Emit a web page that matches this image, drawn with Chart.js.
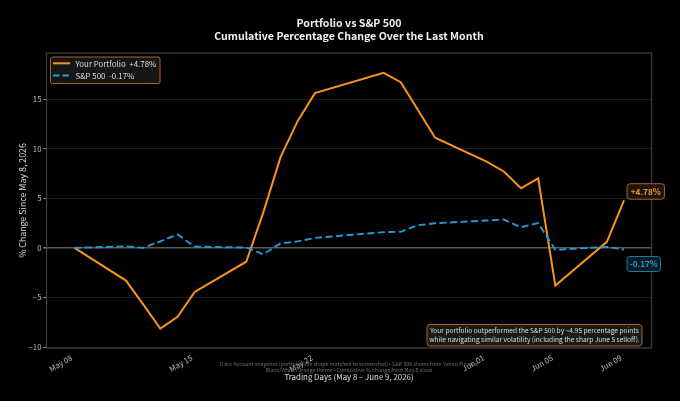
<!DOCTYPE html>
<html><head><meta charset="utf-8">
<style>html,body{margin:0;padding:0;background:#000}#w{width:680px;height:401px;position:relative}</style>
<script src="https://cdn.jsdelivr.net/npm/chart.js@4/dist/chart.umd.min.js"></script>
</head><body><div id="w"><canvas id="c" width="680" height="401"></canvas></div>
<script>
const tradingDates = ["2026-05-08","2026-05-11","2026-05-12","2026-05-13","2026-05-14","2026-05-15","2026-05-18","2026-05-19","2026-05-20","2026-05-21","2026-05-22","2026-05-26","2026-05-27","2026-05-28","2026-05-29","2026-06-01","2026-06-02","2026-06-03","2026-06-04","2026-06-05","2026-06-08","2026-06-09"];
const portfolioValues = [0,-3.3,-5.7,-8.15,-6.95,-4.45,-1.4,3.6,9.15,12.8,15.6,17.65,16.7,13.9,11.1,8.7,7.7,6.0,7.0,-3.8,0.6,4.78];
const sp500Values = [0,0.15,0.0,0.65,1.35,0.12,0.03,-0.65,0.45,0.65,1.0,1.58,1.62,2.28,2.48,2.76,2.85,2.08,2.5,-0.2,0.1,-0.17];
const xTickDates = ["2026-05-08","2026-05-15","2026-05-22","2026-06-01","2026-06-05","2026-06-09"];
const xTickLabels = ["May 08","May 15","May 22","Jun 01","Jun 05","Jun 09"];
const yTicks = [-10,-5,0,5,10,15];
const titleLines = ["Portfolio vs S&P 500","Cumulative Percentage Change Over the Last Month"];
const seriesNames = ["Your Portfolio  +4.78%","S&P 500  -0.17%"];
const endLabels = ["+4.78%","-0.17%"];
const noteLines = ["Your portfolio outperformed the S&P 500 by ~4.95 percentage points","while navigating similar volatility (including the sharp June 5 selloff)."];
const sourceLines = ["Data: Account snapshot (portfolio line shape matched to screenshot) • S&P 500 closes from Yahoo Finance","Black/White/Orange theme • Cumulative % change from May 8 close"];

const FONT = '"Noto Sans CJK JP","Noto Sans",sans-serif';
const ORANGE = '#f7931e', BLUE = '#1f9bd7';
const ms = s => Date.parse(s + 'T00:00:00Z');
const DAY = 864e5;
const toPts = v => tradingDates.map((d,i)=>({x:ms(d),y:v[i]}));

function rr(ctx,x,y,w,h,r,fill,stroke,lw){
  ctx.beginPath();ctx.roundRect(x,y,w,h,r);
  ctx.fillStyle=fill;ctx.fill();
  ctx.strokeStyle=stroke;ctx.lineWidth=lw;ctx.stroke();
}
const decor = {
  id:'decor',
  afterLayout(chart){
    const t=chart.titleBlock,a=chart.chartArea;
    if(t){t.left=a.left;t.right=a.right;}
  },
  beforeDatasetsDraw(chart){
    const a=chart.chartArea, ctx=chart.ctx;
    ctx.save();ctx.strokeStyle='#3c3c3c';ctx.lineWidth=1.3;
    ctx.strokeRect(a.left,a.top,a.right-a.left,a.bottom-a.top);ctx.restore();
  },
  afterDraw(chart){
    const ctx=chart.ctx, sx=chart.scales.x, sy=chart.scales.y;
    ctx.save();
    // legend
    rr(ctx,50.5,57,109.5,26.5,2,'#161616','#a8622a',1);
    ctx.lineWidth=2;ctx.setLineDash([]);ctx.strokeStyle=ORANGE;
    ctx.beginPath();ctx.moveTo(53,63.3);ctx.lineTo(70,63.3);ctx.stroke();
    ctx.setLineDash([6.5,3]);ctx.strokeStyle=BLUE;
    ctx.beginPath();ctx.moveTo(53,75.5);ctx.lineTo(70,75.5);ctx.stroke();
    ctx.setLineDash([]);
    ctx.font='7.9px '+FONT;ctx.fillStyle='#dddddd';ctx.textBaseline='middle';ctx.textAlign='left';
    ctx.fillText(seriesNames[0],75.5,63.5);
    ctx.fillText(seriesNames[1],75.5,75.7);
    // end callouts
    ctx.font='bold 8.2px '+FONT;ctx.textAlign='center';
    const lastX=sx.getPixelForValue(ms(tradingDates[tradingDates.length-1]));
    const py=sy.getPixelForValue(portfolioValues[portfolioValues.length-1]);
    const by=sy.getPixelForValue(sp500Values[sp500Values.length-1]);
    rr(ctx,lastX+3,py-16.7,37.5,15.5,3,'#1c1610','#a8622a',1);
    ctx.fillStyle=ORANGE;ctx.fillText(endLabels[0],lastX+21.7,py-8.9);
    rr(ctx,lastX+3,by+7,33.5,15,3,'#0e1a22','#1c7ba8',1);
    ctx.fillStyle=BLUE;ctx.fillText(endLabels[1],lastX+19.7,by+14.5);
    // note box
    rr(ctx,427,324.5,215,21.5,3,'#1a1a1a','#a8622a',1);
    ctx.font='6.6px '+FONT;ctx.fillStyle='#dddddd';
    ctx.fillText(noteLines[0],534.5,330.8);
    ctx.fillText(noteLines[1],534.5,339.2);
    // source
    ctx.font='5.3px '+FONT;ctx.fillStyle='#6a6a6a';
    ctx.fillText(sourceLines[0],349,364);
    ctx.fillText(sourceLines[1],349,370);
    ctx.restore();
  }
};

new Chart(document.getElementById('c'),{
  type:'line',
  data:{datasets:[
    {label:seriesNames[0],data:toPts(portfolioValues),borderColor:ORANGE,backgroundColor:ORANGE,borderWidth:2,pointRadius:0,tension:0,order:2},
    {label:seriesNames[1],data:toPts(sp500Values),borderColor:BLUE,backgroundColor:BLUE,borderWidth:1.9,borderDash:[7,3.5],pointRadius:0,tension:0,order:1}
  ]},
  options:{
    responsive:false,animation:false,devicePixelRatio:1,
    layout:{padding:{left:0,right:28.5,top:0,bottom:0}},
    plugins:{
      tooltip:{enabled:false},
      title:{display:true,text:titleLines,color:'#f2f2f2',font:{family:FONT,size:10.6,weight:'bold',lineHeight:1.22},padding:{top:16.5,bottom:10.6}},
      legend:{display:false}
    },
    scales:{
      x:{type:'linear',min:ms(xTickDates[0])-1.63*DAY,max:ms(xTickDates[5])+1.6*DAY,
        afterBuildTicks(s){s.ticks=xTickDates.map(d=>({value:ms(d)}));},
        afterFit(s){s.height=53;},
        grid:{display:false,drawTicks:true,tickLength:3,tickColor:'#999'},
        border:{display:false},
        ticks:{autoSkip:false,minRotation:30,maxRotation:30,color:'#bbbbbb',padding:2,labelOffset:-3,font:{family:FONT,size:7.8},
          callback(v){const i=xTickDates.findIndex(d=>ms(d)===v);return i<0?'':xTickLabels[i];}},
        title:{display:true,text:'Trading Days (May 8 – June 9, 2026)',color:'#dddddd',font:{family:FONT,size:7.9},padding:{top:0,bottom:19}}
      },
      y:{min:-10.1,max:19.65,
        afterBuildTicks(s){s.ticks=yTicks.map(v=>({value:v}));},
        afterFit(s){s.width=46.5;},
        grid:{color:c=>c.tick&&c.tick.value===0?'#5a5a5a':'#1c1c1c',lineWidth:c=>c.tick&&c.tick.value===0?1.5:1,drawTicks:true,tickLength:3,tickColor:'#999'},
        border:{display:false},
        ticks:{color:'#bbbbbb',padding:2,font:{family:FONT,size:7.8},callback:v=>String(v).replace('-','−')},
        title:{display:true,text:'% Change Since May 8, 2026',color:'#dddddd',font:{family:FONT,size:8.8},padding:{top:17,bottom:0}}
      }
    }
  },
  plugins:[decor]
});
</script></body></html>
